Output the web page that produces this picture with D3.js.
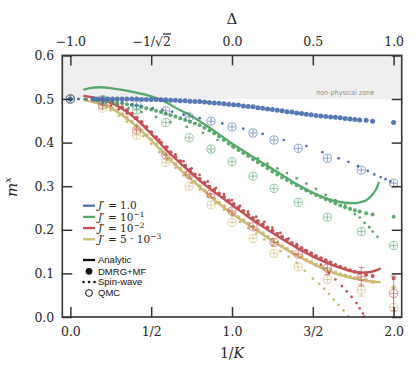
<!DOCTYPE html>
<html><head><meta charset="utf-8">
<script src="https://cdn.jsdelivr.net/npm/d3@7"></script>
<style>body{margin:0;background:#fff} svg{display:block}</style>
</head><body><svg id="c" width="416" height="376"></svg>
<script>
// ---------- data ----------
const xTicks = [0, 0.5, 1, 1.5, 2];
const xTickLabels = ["0.0", "1/2", "1.0", "3/2", "2.0"];
const deltaTickLabels = ["−1.0", "−1/√2", "0.0", "0.5", "1.0"];
const yTicks = [0, 0.1, 0.2, 0.3, 0.4, 0.5, 0.6];
const yTickLabels = ["0.0", "0.1", "0.2", "0.3", "0.4", "0.5", "0.6"];

const colors = ["#4c72b0", "#55a868", "#c44e52", "#ccb974"];
const legendBase = ["1.0", "10", "10", "5 · 10"];
const legendExp = ["", "−1", "−2", "−3"];

// Analytic (solid lines)
const greenAnalyticX = [0.08,0.12,0.18,0.25,0.30,0.40,0.50,0.56,0.60,0.68,0.72,0.80,0.85,0.90,1.00,1.10,1.20,1.30,1.40,1.50,1.60,1.65,1.70,1.75,1.79,1.83,1.86,1.89,1.91];
const greenAnalyticY = [0.521,0.525,0.527,0.525,0.522,0.515,0.506,0.498,0.491,0.474,0.467,0.449,0.437,0.424,0.398,0.374,0.351,0.328,0.305,0.285,0.270,0.265,0.262,0.261,0.263,0.268,0.277,0.292,0.310];
const redAnalyticX = [0.08,0.15,0.20,0.30,0.40,0.50,0.60,0.70,0.80,0.90,1.00,1.10,1.20,1.30,1.40,1.50,1.60,1.70,1.75,1.80,1.85,1.90,1.92];
const redAnalyticY = [0.507,0.503,0.498,0.482,0.456,0.420,0.381,0.346,0.313,0.284,0.257,0.230,0.205,0.181,0.159,0.139,0.122,0.109,0.104,0.102,0.103,0.108,0.112];
const yellowAnalyticX = [0.08,0.15,0.20,0.30,0.40,0.50,0.60,0.70,0.80,0.90,1.00,1.10,1.20,1.30,1.40,1.50,1.60,1.70,1.80,1.85,1.92];
const yellowAnalyticY = [0.498,0.492,0.487,0.468,0.440,0.405,0.367,0.331,0.298,0.266,0.237,0.212,0.187,0.163,0.141,0.122,0.105,0.093,0.085,0.082,0.080];

// DMRG+MF (filled dots), shared 1/K grid
const dmrgX = [0,0.14,0.17,0.20,0.23,0.26,0.29,0.32,0.35,0.38,0.41,
  0.44,0.47,0.50,0.53,0.56,0.59,0.62,0.65,0.68,0.71,
  0.74,0.77,0.80,0.83,0.86,0.89,0.92,0.95,0.98,1.01,
  1.04,1.07,1.10,1.13,1.16,1.19,1.22,1.25,1.28,1.31,
  1.34,1.37,1.40,1.43,1.46,1.49,1.52,1.55,1.58,1.61,
  1.64,1.67,1.70,1.73,1.76,1.79,1.83,1.87,2.00];
const blueDmrg = [0.500,0.500,0.500,0.500,0.500,0.500,0.500,0.500,0.500,0.500,0.500,
  0.499,0.499,0.499,0.499,0.498,0.498,0.497,0.497,0.496,0.496,
  0.495,0.494,0.494,0.493,0.492,0.491,0.490,0.489,0.488,0.487,
  0.486,0.484,0.483,0.482,0.480,0.479,0.477,0.476,0.474,0.473,
  0.471,0.470,0.468,0.467,0.465,0.464,0.462,0.461,0.460,0.459,
  0.458,0.457,0.455,0.454,0.453,0.452,0.451,0.449,0.446];
const greenDmrg = [0.500,0.500,0.499,0.498,0.496,0.494,0.492,0.490,0.488,0.486,0.485,
  0.482,0.479,0.476,0.473,0.470,0.467,0.463,0.460,0.456,0.452,
  0.448,0.444,0.440,0.434,0.428,0.421,0.414,0.406,0.398,0.390,
  0.383,0.376,0.369,0.362,0.355,0.348,0.341,0.334,0.327,0.320,
  0.314,0.308,0.302,0.296,0.290,0.285,0.280,0.275,0.270,0.266,
  0.261,0.256,0.252,0.248,0.245,0.242,0.238,0.235,0.230];
const redDmrg = [0.500,0.500,0.499,0.497,0.495,0.492,0.488,0.481,0.474,0.466,0.457,
  0.447,0.436,0.424,0.412,0.400,0.389,0.378,0.367,0.357,0.347,
  0.337,0.327,0.317,0.308,0.299,0.291,0.283,0.275,0.267,0.259,
  0.251,0.243,0.235,0.227,0.220,0.212,0.205,0.198,0.191,0.184,
  0.177,0.170,0.164,0.158,0.152,0.146,0.140,0.135,0.130,0.125,
  0.119,0.115,0.111,0.107,0.104,0.101,0.097,0.094,0.089];
const yellowDmrg = [0.500,0.495,0.492,0.489,0.484,0.479,0.473,0.465,0.457,0.448,0.439,
  0.428,0.417,0.407,0.396,0.384,0.373,0.362,0.351,0.340,0.330,
  0.320,0.310,0.300,0.290,0.281,0.271,0.262,0.254,0.245,0.237,
  0.229,0.222,0.214,0.207,0.199,0.192,0.184,0.177,0.170,0.163,
  0.156,0.149,0.143,0.137,0.131,0.126,0.120,0.115,0.110,0.106,
  0.102,0.098,0.095,0.092,0.089,0.087,0.084,0.080,0.068];

// Spin-wave (small dots)
const blueSwX = [0.05,0.09,0.14,0.20,0.26,0.32,0.38,0.44,0.51,0.57,0.63,0.70,0.80,0.94,1.07,1.19,1.32,1.46,1.56,1.66,1.72,1.78,1.84,1.88,1.92,1.95,1.98];
const blueSwY = [0.500,0.500,0.499,0.497,0.495,0.492,0.488,0.484,0.479,0.475,0.471,0.464,0.456,0.444,0.432,0.420,0.406,0.392,0.378,0.364,0.356,0.346,0.335,0.327,0.321,0.316,0.311];
const greenSwX = [0.05,0.10,0.16,0.22,0.28,0.36,0.44,0.53,0.62,0.72,0.82,0.91,1.00,1.04,1.10,1.16,1.22,1.28,1.34,1.40,1.46,1.52,1.58,1.64,1.70,1.73,1.76,1.79,1.82,1.85,1.87,1.90];
const greenSwY = [0.500,0.499,0.496,0.492,0.486,0.479,0.470,0.459,0.447,0.436,0.422,0.406,0.392,0.385,0.374,0.364,0.352,0.341,0.330,0.318,0.306,0.294,0.280,0.268,0.256,0.247,0.236,0.228,0.216,0.206,0.196,0.184];
const redSwX = [0.05,0.10,0.15,0.20,0.25,0.30,0.35,0.40,0.45,0.50,0.55,0.60,0.65,0.70,0.75,0.80,0.85,0.90,0.95,1.00,1.05,1.10,1.15,1.20,1.25,1.30,1.35,1.40,1.45,1.50,1.55,1.60,1.64,1.68,1.71,1.74,1.77,1.79,1.81,1.82];
const redSwY = [0.500,0.499,0.497,0.492,0.485,0.477,0.467,0.455,0.440,0.424,0.407,0.390,0.373,0.357,0.341,0.326,0.311,0.296,0.282,0.268,0.255,0.242,0.230,0.218,0.205,0.193,0.180,0.167,0.153,0.138,0.120,0.101,0.086,0.071,0.059,0.046,0.032,0.020,0.008,0.001];
const yellowSwX = [0.05,0.10,0.15,0.20,0.25,0.30,0.35,0.40,0.45,0.50,0.55,0.60,0.65,0.70,0.75,0.80,0.85,0.90,0.95,1.00,1.05,1.10,1.15,1.20,1.25,1.30,1.35,1.40,1.45,1.50,1.54,1.57,1.60,1.63,1.66,1.69,1.72];
const yellowSwY = [0.500,0.497,0.492,0.484,0.474,0.462,0.448,0.432,0.415,0.397,0.378,0.360,0.342,0.325,0.308,0.292,0.276,0.261,0.246,0.232,0.218,0.204,0.191,0.178,0.165,0.151,0.138,0.124,0.106,0.088,0.076,0.065,0.053,0.040,0.028,0.015,0.002];

// QMC (open circles with error bars), shared grid
const qmcX = [0, 0.20, 0.41, 0.59, 0.735, 0.87, 1.00, 1.13, 1.26, 1.41, 1.59, 1.80, 2.00];
const blueQmc = [0.500,0.498,0.486,0.473,0.459,0.449,0.436,0.422,0.406,0.387,0.364,0.337,0.307];
const greenQmc = [0.500,0.497,0.475,0.446,0.411,0.385,0.356,0.323,0.295,0.263,0.229,0.196,0.164];
const redQmc = [0.500,0.486,0.429,0.372,0.326,0.282,0.243,0.207,0.171,0.144,0.112,0.0925,0.054];
const yellowQmc = [0.500,0.479,0.417,0.354,0.300,0.257,0.217,0.180,0.146,0.115,0.086,0.062,0.022];
const blueQmcErr = [0.003,0.003,0.003,0.003,0.003,0.003,0.003,0.003,0.003,0.003,0.004,0.004,0.006];
const greenQmcErr = [0.003,0.003,0.003,0.003,0.003,0.003,0.003,0.003,0.003,0.003,0.004,0.004,0.008];
const redQmcErr = [0.003,0.003,0.003,0.003,0.003,0.003,0.003,0.003,0.004,0.005,0.015,0.021,0.040];
const yellowQmcErr = [0.003,0.003,0.003,0.003,0.003,0.003,0.003,0.003,0.004,0.005,0.006,0.014,0.045];

// ---------- drawing ----------
const svg = d3.select("#c");
const X0 = 62.3, X1 = 401.7, Y0 = 55.4, Y1 = 317;
const x = d3.scaleLinear().domain([-0.05, 2.05]).range([X0, X1]);
const y = d3.scaleLinear().domain([0, 0.6]).range([Y1, Y0]);
const ink = "#262626";
const serif = "'DejaVu Serif', serif";
const sans = "'Liberation Sans', Arial, sans-serif";

svg.append("defs").append("clipPath").attr("id","clip")
  .append("rect").attr("x",X0).attr("y",Y0).attr("width",X1-X0).attr("height",Y1-Y0);

// non-physical band
svg.append("rect").attr("x", X0).attr("y", y(0.6)).attr("width", X1 - X0)
  .attr("height", y(0.5) - y(0.6)).attr("fill", "#efefef");
svg.append("text").attr("x", x(1.70)).attr("y", y(0.5) - 4.5)
  .attr("text-anchor", "middle").attr("font-family", "'DejaVu Sans', sans-serif")
  .attr("font-size", 7).attr("fill", "#8a8a8a")
  .attr("textLength", 58).attr("lengthAdjust", "spacingAndGlyphs")
  .text("non-physical zone");

const plot = svg.append("g").attr("clip-path", "url(#clip)");
const line = d3.line().x(d => x(d[0])).y(d => y(d[1])).curve(d3.curveMonotoneX);

function swDots(xs, ys, c) {
  plot.append("g").selectAll("circle").data(d3.zip(xs, ys)).join("circle")
    .attr("cx", d => x(d[0])).attr("cy", d => y(d[1])).attr("r", 1.35).attr("fill", c);
}
function dmrgDots(ys, c, r) {
  plot.append("g").attr("opacity", 0.95).selectAll("circle").data(d3.zip(dmrgX, ys)).join("circle")
    .attr("cx", d => x(d[0])).attr("cy", d => y(d[1])).attr("r", r).attr("fill", c);
}
function analytic(xs, ys, c) {
  plot.append("path").datum(d3.zip(xs, ys)).attr("d", line)
    .attr("fill", "none").attr("stroke", c).attr("stroke-width", 2.3);
}
function qmc(vals, errs, c) {
  const g = plot.append("g").attr("stroke", c).attr("fill", "none").attr("stroke-width", 0.9).attr("opacity", 0.72);
  const data = d3.zip(qmcX, vals, errs);
  g.selectAll("circle").data(data).join("circle")
    .attr("cx", d => x(d[0])).attr("cy", d => y(d[1])).attr("r", 4.1);
  g.selectAll("line.v").data(data).join("line").attr("class", "v")
    .attr("x1", d => x(d[0])).attr("x2", d => x(d[0]))
    .attr("y1", d => Math.min(y(d[1] + d[2]), y(d[1]) - 3.3))
    .attr("y2", d => Math.max(y(d[1] - d[2]), y(d[1]) + 3.3));
  g.selectAll("line.h").data(data).join("line").attr("class", "h")
    .attr("x1", d => x(d[0]) - 3.3).attr("x2", d => x(d[0]) + 3.3)
    .attr("y1", d => y(d[1])).attr("y2", d => y(d[1]));
  const big = data.filter(d => y(d[1] - d[2]) - y(d[1] + d[2]) > 9);
  g.selectAll("line.ct").data(big).join("line").attr("class", "ct")
    .attr("x1", d => x(d[0]) - 3).attr("x2", d => x(d[0]) + 3)
    .attr("y1", d => y(d[1] + d[2])).attr("y2", d => y(d[1] + d[2]));
  g.selectAll("line.cb").data(big).join("line").attr("class", "cb")
    .attr("x1", d => x(d[0]) - 3).attr("x2", d => x(d[0]) + 3)
    .attr("y1", d => y(d[1] - d[2])).attr("y2", d => y(d[1] - d[2]));
}

// yellow
qmc(yellowQmc, yellowQmcErr, colors[3]);
swDots(yellowSwX, yellowSwY, colors[3]);
analytic(yellowAnalyticX, yellowAnalyticY, colors[3]);
dmrgDots(yellowDmrg, colors[3], 2.0);
// red
qmc(redQmc, redQmcErr, colors[2]);
swDots(redSwX, redSwY, colors[2]);
analytic(redAnalyticX, redAnalyticY, colors[2]);
dmrgDots(redDmrg, colors[2], 2.0);
// green
qmc(greenQmc, greenQmcErr, colors[1]);
swDots(greenSwX, greenSwY, colors[1]);
analytic(greenAnalyticX, greenAnalyticY, colors[1]);
dmrgDots(greenDmrg, colors[1], 2.0);
// blue
qmc(blueQmc, blueQmcErr, colors[0]);
swDots(blueSwX, blueSwY, colors[0]);
dmrgDots(blueDmrg, colors[0], 2.5);

// ---------- axes ----------
function styleAxis(g) {
  g.select(".domain").remove();
  g.selectAll(".tick line").attr("stroke", "#333").attr("stroke-width", 1.5);
  g.selectAll(".tick text").attr("fill", ink).attr("font-family", serif).attr("font-size", 12.5);
}
svg.append("g").attr("transform", `translate(0,${Y1})`)
  .call(d3.axisBottom(x).tickValues(xTicks).tickFormat((d, i) => xTickLabels[i]).tickSizeInner(-10).tickSizeOuter(0).tickPadding(10))
  .call(styleAxis);
const topAx = svg.append("g").attr("transform", `translate(0,${Y0})`)
  .call(d3.axisTop(x).tickValues(xTicks).tickFormat((d, i) => deltaTickLabels[i]).tickSizeInner(-10).tickSizeOuter(0).tickPadding(9))
  .call(styleAxis);
topAx.selectAll(".tick text").filter(function() { return this.textContent.includes("√"); })
  .each(function() {
    const t = d3.select(this); const s = t.text(); const k = s.indexOf("√");
    t.text(null);
    t.append("tspan").text(s.slice(0, k + 1));
    t.append("tspan").style("text-decoration", "overline").text(s.slice(k + 1));
  });
svg.append("g").attr("transform", `translate(${X0},0)`)
  .call(d3.axisLeft(y).tickValues(yTicks).tickFormat((d, i) => yTickLabels[i]).tickSizeInner(-10).tickSizeOuter(0).tickPadding(8))
  .call(styleAxis);
svg.append("g").attr("transform", `translate(${X1},0)`)
  .call(d3.axisRight(y).tickValues(yTicks).tickFormat(() => "").tickSizeInner(-10).tickSizeOuter(0))
  .call(styleAxis);

svg.append("rect").attr("x", X0).attr("y", Y0).attr("width", X1 - X0).attr("height", Y1 - Y0)
  .attr("fill", "none").attr("stroke", "#333").attr("stroke-width", 1.6);

// axis titles
svg.append("text").attr("x", x(1)).attr("y", 23.5).attr("text-anchor", "middle")
  .attr("font-family", serif).attr("font-size", 15).attr("fill", ink).text("Δ");
const xt = svg.append("text").attr("x", x(1)).attr("y", 357.5).attr("text-anchor", "middle")
  .attr("font-family", serif).attr("font-size", 14).attr("fill", ink);
xt.append("tspan").text("1/");
xt.append("tspan").attr("font-style", "italic").text("K");
const yt = svg.append("text").attr("transform", "translate(17,187) rotate(-90)").attr("text-anchor", "middle")
  .attr("font-family", serif).attr("font-size", 15).attr("fill", ink);
yt.append("tspan").attr("font-style", "italic").text("m");
yt.append("tspan").attr("font-style", "italic").attr("font-size", 10).attr("dy", -6).text("x");

// ---------- legend ----------
const lg = svg.append("g");
const lgY = [205.7, 216.9, 228.1, 239.3];
colors.forEach((c, i) => {
  lg.append("line").attr("x1", 83).attr("x2", 95).attr("y1", lgY[i]).attr("y2", lgY[i])
    .attr("stroke", c).attr("stroke-width", 2.3);
  const t = lg.append("text").attr("x", 98).attr("y", lgY[i] + 3.6).attr("font-family", serif)
    .attr("font-size", 10.5).attr("fill", ink);
  t.append("tspan").attr("font-style", "italic").text("J");
  t.append("tspan").text("′ = " + legendBase[i]);
  if (legendExp[i]) t.append("tspan").attr("font-size", 7.5).attr("dy", -4).text(legendExp[i]);
});
const kY = [260, 271.3, 282, 293];
const kLabels = ["Analytic", "DMRG+MF", "Spin-wave", "QMC"];
lg.append("line").attr("x1", 83).attr("x2", 95).attr("y1", kY[0]).attr("y2", kY[0]).attr("stroke", "#111").attr("stroke-width", 2.3);
lg.append("circle").attr("cx", 89).attr("cy", kY[1]).attr("r", 3.4).attr("fill", "#111");
[83.5, 89, 94.5].forEach(px => lg.append("circle").attr("cx", px).attr("cy", kY[2]).attr("r", 1.3).attr("fill", "#111"));
lg.append("circle").attr("cx", 89).attr("cy", kY[3]).attr("r", 3.4).attr("fill", "none").attr("stroke", "#111").attr("stroke-width", 1);
kLabels.forEach((s, i) => lg.append("text").attr("x", 98).attr("y", kY[i] + 3.4)
  .attr("font-family", sans).attr("font-size", 9.5).attr("fill", "#111").text(s));
</script></body></html>
